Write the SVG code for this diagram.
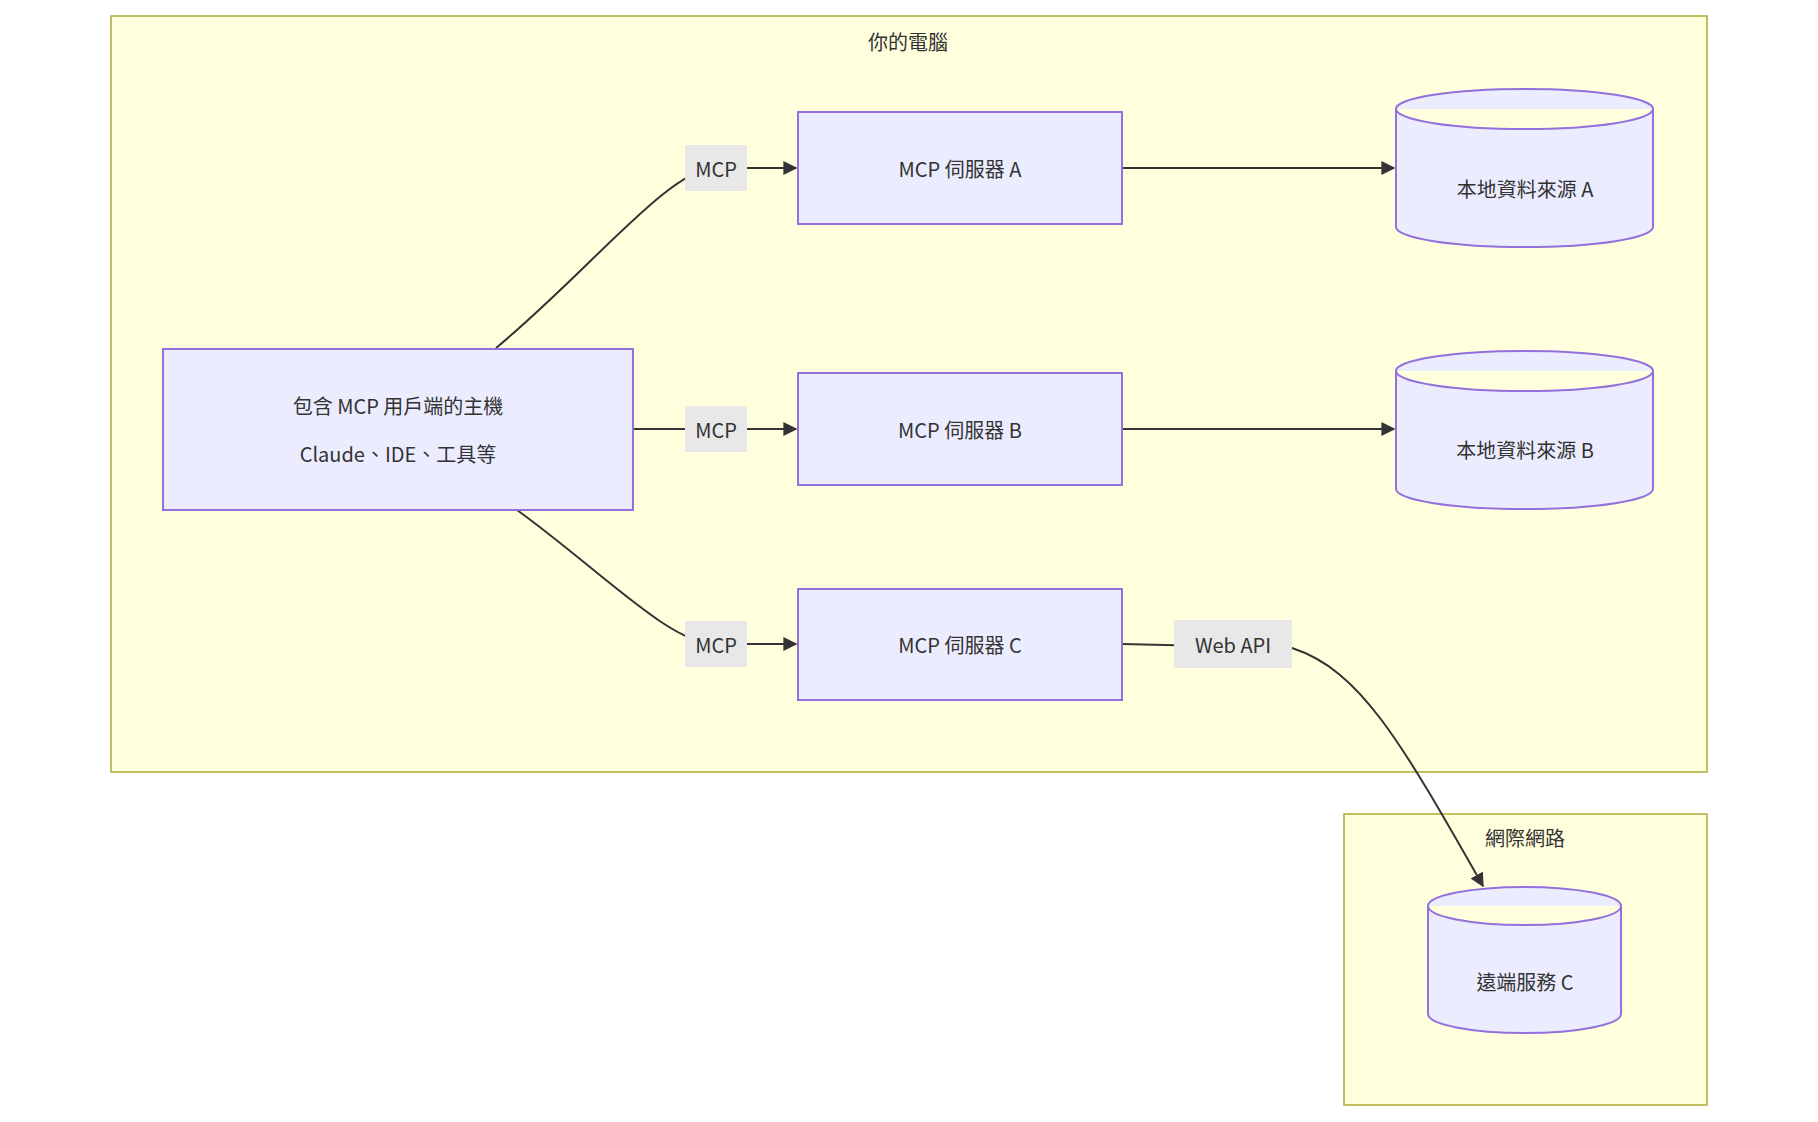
<svg xmlns="http://www.w3.org/2000/svg" width="1818" height="1122" viewBox="0 0 1818 1122">
<style>
text{font-family:"Noto Sans CJK TC","Noto Sans",sans-serif;font-size:20px;fill:#333;text-anchor:middle;dominant-baseline:central}
.cl{fill:#ffffde;stroke:#aaaa33;stroke-width:1.5}
.n{fill:#ececff;stroke:#9370db;stroke-width:2}
.e{fill:none;stroke:#333;stroke-width:2}
.lb{fill:#e8e8e8}
</style>
<defs><marker id="a" viewBox="0 0 10 10" refX="9" refY="5" markerWidth="7" markerHeight="7" orient="auto"><path d="M0,0L10,5L0,10z" fill="#333"/></marker></defs>
<rect x="0" y="0" width="1818" height="1122" fill="#fff"/>
<g id="pc"><rect class="cl" x="111" y="16" width="1596" height="756"/><text x="908" y="41">你的電腦</text></g>
<g id="net"><rect class="cl" x="1344" y="814" width="363" height="291"/><text x="1525" y="837">網際網路</text></g>
<g id="edges">
<path class="e" d="M496,348 C590,270 670,168 715,168 L796,168" marker-end="url(#a)"/>
<path class="e" d="M633,429 L796,429" marker-end="url(#a)"/>
<path class="e" d="M517,510 C600,570 670,644 715,644 L796,644" marker-end="url(#a)"/>
<path class="e" d="M1122,168 L1394,168" marker-end="url(#a)"/>
<path class="e" d="M1122,429 L1394,429" marker-end="url(#a)"/>
<path class="e" d="M1122,644 L1292,648 C1360,670 1400,740 1483,886" marker-end="url(#a)"/>
<rect class="lb" x="685" y="145" width="62" height="46"/><text x="716" y="168">MCP</text>
<rect class="lb" x="685" y="406" width="62" height="46"/><text x="716" y="429">MCP</text>
<rect class="lb" x="685" y="621" width="62" height="46"/><text x="716" y="644">MCP</text>
<rect class="lb" x="1174" y="620" width="118" height="48"/><text x="1233" y="644">Web API</text>
</g>
<g id="host"><rect class="n" x="163" y="349" width="470" height="161"/><text x="398" y="405">包含 MCP 用戶端的主機</text><text x="398" y="453">Claude、IDE、工具等</text></g>
<g id="sa"><rect class="n" x="798" y="112" width="324" height="112"/><text x="960" y="168">MCP 伺服器 A</text></g>
<g id="sb"><rect class="n" x="798" y="373" width="324" height="112"/><text x="960" y="429">MCP 伺服器 B</text></g>
<g id="sc"><rect class="n" x="798" y="589" width="324" height="111"/><text x="960" y="644">MCP 伺服器 C</text></g>
<g id="da"><path class="n" d="M1396,109 A128.5,20 0 0 1 1653,109 L1653,227 A128.5,20 0 0 1 1396,227 Z M1396,109 A128.5,20 0 0 0 1653,109"/><text x="1525" y="188">本地資料來源 A</text></g>
<g id="db"><path class="n" d="M1396,371 A128.5,20 0 0 1 1653,371 L1653,489 A128.5,20 0 0 1 1396,489 Z M1396,371 A128.5,20 0 0 0 1653,371"/><text x="1525" y="449">本地資料來源 B</text></g>
<g id="rc"><path class="n" d="M1428,906 A96.5,19 0 0 1 1621,906 L1621,1014 A96.5,19 0 0 1 1428,1014 Z M1428,906 A96.5,19 0 0 0 1621,906"/><text x="1525" y="981">遠端服務 C</text></g>
</svg>
